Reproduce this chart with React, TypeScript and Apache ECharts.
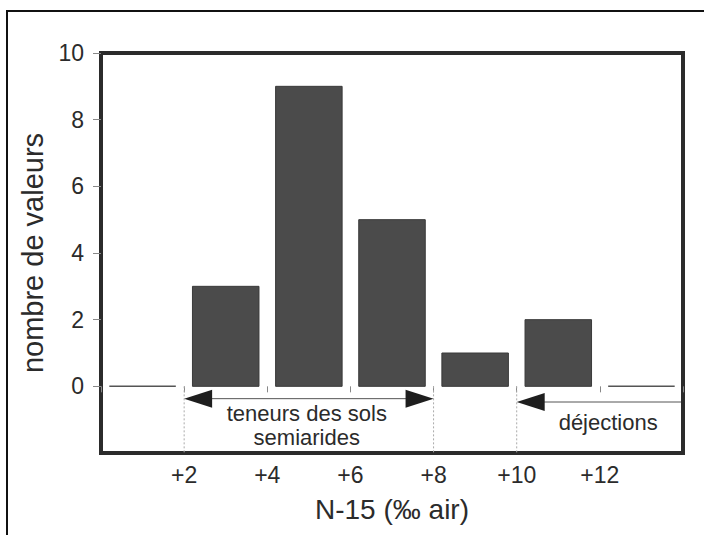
import React, { useEffect, useRef } from "react";
import * as echarts from "echarts";

// Histogram bins (centre of bin, count)
const binCenters = [1, 3, 5, 7, 9, 11, 13];
const binCounts = [0, 3, 9, 5, 1, 2, 0];
const BIN_WIDTH = 1.6;

const xTicks = [0, 2, 4, 6, 8, 10, 12, 14];
const yTicks = [-2, 0, 2, 4, 6, 8, 10];
const yLabelTicks = [0, 2, 4, 6, 8, 10];

// Range annotations
const soilRange = [2, 8];
const soilArrowY = -0.37;
const dejRange = [10, 14];
const dejArrowY = -0.47;
const guideXs = [2, 8, 10];

const soilLabel1 = "teneurs des sols";
const soilLabel2 = "semiarides";
const dejLabel = "déjections";
const soilLabelPos = [4.95, -0.8, -1.53];
const dejLabelPos = [12.2, -1.08];

const xTitle = "N-15 (‰ air)";
const yTitle = "nombre de valeurs";

const FONT = "'Liberation Sans', Arial, sans-serif";

export default function App() {
  const ref = useRef<HTMLDivElement>(null);
  useEffect(() => {
    if (!ref.current) return;
    const chart = echarts.init(ref.current, null, { renderer: "svg" });
    const bars = binCenters.map((c, i) => [c, binCounts[i]]);

    const head = (tip: number[], dir: number, style: any) => ({
      type: "polygon",
      shape: {
        points: [
          [tip[0], tip[1]],
          [tip[0] + dir * 28, tip[1] - 9],
          [tip[0] + dir * 28, tip[1] + 9],
        ],
      },
      style,
    });

    const option: any = {
      animation: false,
      backgroundColor: "#ffffff",
      textStyle: { fontFamily: FONT },
      grid: {
        left: 101,
        top: 53,
        width: 582,
        height: 400,
        show: true,
        borderColor: "#2b2b2b",
        borderWidth: 4,
        backgroundColor: "transparent",
      },
      xAxis: {
        type: "value",
        min: xTicks[0],
        max: xTicks[xTicks.length - 1],
        interval: 2,
        name: xTitle,
        nameLocation: "middle",
        nameGap: 42,
        nameTextStyle: { fontSize: 28, color: "#2b2b2b", fontFamily: FONT },
        axisLine: { show: false },
        axisTick: { show: true, length: 6, lineStyle: { color: "#888", width: 1 } },
        axisLabel: {
          fontSize: 23,
          color: "#2b2b2b",
          margin: 10,
          fontFamily: FONT,
          formatter: (v: number) =>
            v === xTicks[0] || v === xTicks[xTicks.length - 1] ? "" : "+" + v,
        },
        splitLine: { show: false },
      },
      yAxis: {
        type: "value",
        min: yTicks[0],
        max: yTicks[yTicks.length - 1],
        interval: 2,
        name: yTitle,
        nameLocation: "middle",
        nameGap: 43,
        nameRotate: 90,
        nameTextStyle: { fontSize: 29, color: "#2b2b2b", fontFamily: FONT },
        axisLine: { show: false },
        axisTick: {
          show: true,
          length: 8,
          customValues: yLabelTicks,
          lineStyle: { color: "#888", width: 1 },
        },
        axisLabel: {
          fontSize: 23,
          color: "#2b2b2b",
          margin: 17,
          fontFamily: FONT,
          customValues: yLabelTicks,
          formatter: (v: number) => String(v),
        },
        splitLine: { show: false },
      },
      graphic: [
        {
          type: "rect",
          shape: { x: 7, y: 11, width: 720, height: 560 },
          style: { fill: "none", stroke: "#111", lineWidth: 2 },
          silent: true,
        },
      ],
      series: [
        {
          type: "custom",
          data: bars,
          renderItem: (params: any, api: any) => {
            const c = api.value(0);
            const v = api.value(1);
            const p0 = api.coord([c - BIN_WIDTH / 2, v]);
            const p1 = api.coord([c + BIN_WIDTH / 2, 0]);
            if (v === 0) {
              return {
                type: "line",
                shape: { x1: p0[0], y1: p1[1], x2: p1[0], y2: p1[1] },
                style: { stroke: "#555", lineWidth: 1.5 },
              };
            }
            return {
              type: "rect",
              shape: { x: p0[0], y: p0[1], width: p1[0] - p0[0], height: p1[1] - p0[1] },
              style: { fill: "#4b4b4b", stroke: "#3a3a3a", lineWidth: 1 },
            };
          },
        },
        {
          type: "custom",
          data: [[0]],
          silent: true,
          renderItem: (params: any, api: any) => {
            const children: any[] = [];
            const y0 = api.coord([0, 0])[1];
            const yb = api.coord([0, yTicks[0]])[1];
            guideXs.forEach((gx) => {
              const px = api.coord([gx, 0])[0];
              children.push({
                type: "line",
                shape: { x1: px, y1: y0, x2: px, y2: yb },
                style: { stroke: "#aaa", lineWidth: 1, lineDash: [2, 2] },
              });
            });
            const headStyle = { fill: "#1e1e1e" };
            const a = api.coord([soilRange[0], soilArrowY]);
            const b = api.coord([soilRange[1], soilArrowY]);
            children.push({
              type: "line",
              shape: { x1: a[0] + 20, y1: a[1], x2: b[0] - 20, y2: b[1] },
              style: { stroke: "#555", lineWidth: 1 },
            });
            children.push(head(a, 1, headStyle));
            children.push(head(b, -1, headStyle));
            const c = api.coord([dejRange[0], dejArrowY]);
            const d = api.coord([dejRange[1], dejArrowY]);
            children.push({
              type: "line",
              shape: { x1: c[0] + 20, y1: c[1], x2: d[0] - 2, y2: d[1] },
              style: { stroke: "#555", lineWidth: 1 },
            });
            children.push(head(c, 1, headStyle));
            const t1 = api.coord([soilLabelPos[0], soilLabelPos[1]]);
            const t2 = api.coord([soilLabelPos[0], soilLabelPos[2]]);
            const t3 = api.coord([dejLabelPos[0], dejLabelPos[1]]);
            const ts = (x: number, y: number, s: string) => ({
              type: "text",
              x,
              y,
              style: {
                text: s,
                fontSize: 22,
                fontFamily: FONT,
                fill: "#2b2b2b",
                align: "center",
                verticalAlign: "middle",
              },
            });
            children.push(ts(t1[0], t1[1], soilLabel1));
            children.push(ts(t2[0], t2[1], soilLabel2));
            children.push(ts(t3[0], t3[1], dejLabel));
            return { type: "group", children };
          },
        },
      ],
    };
    chart.setOption(option);
    return () => chart.dispose();
  }, []);
  return (
    <div
      ref={ref}
      style={{ position: "fixed", left: 0, top: 0, width: 704, height: 535, background: "#fff" }}
    />
  );
}
